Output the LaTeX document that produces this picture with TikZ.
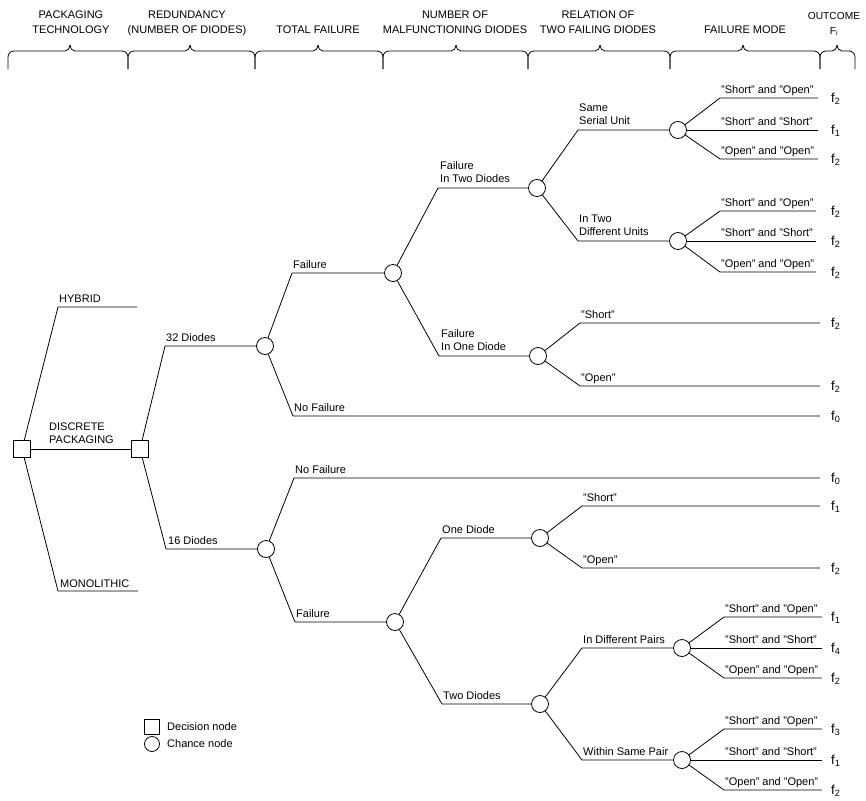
\documentclass[tikz,border=0pt]{standalone}
\usepackage{fontspec}
\setmainfont{Liberation Sans}
\begin{document}
\begin{tikzpicture}[x=1pt,y=-1pt,
  wire/.style={line width=0.8pt, line join=round},
  bracestyle/.style={line width=0.8pt, line join=round},
  chance/.style={circle, draw, line width=0.8pt, minimum size=17pt, inner sep=0pt},
  decision/.style={rectangle, draw, line width=0.8pt, minimum size=17pt, inner sep=0pt},
  lbl/.style={inner sep=0pt, font=\fontsize{11}{13.5}\selectfont, align=left},
  hdr/.style={inner sep=0pt, font=\fontsize{11}{15}\selectfont, align=center},
  flbl/.style={inner sep=0pt, font=\fontsize{13}{15}\selectfont, anchor=base west}
]
\useasboundingbox (0,0) rectangle (866,800);

% ---------- header ----------
\node[hdr, anchor=south] (hpk) at (71,34) {PACKAGING\\TECHNOLOGY};
\node[hdr, anchor=south] (hrd) at (187,36) {REDUNDANCY\\(NUMBER OF DIODES)};
\node[hdr, anchor=base] (htf) at (318,34) {TOTAL FAILURE};
\node[hdr, anchor=south] (hnm) at (455,34) {NUMBER OF\\MALFUNCTIONING DIODES};
\node[hdr, anchor=south] (hrl) at (598,34) {RELATION OF\\TWO FAILING DIODES};
\node[hdr, anchor=base] (hfm) at (745,34) {FAILURE MODE};
\node[hdr, anchor=south, font=\fontsize{10.2}{15}\selectfont] (hout) at (834,36) {OUTCOME\\F\textsubscript{i}};

\foreach \sa/\tk/\sb in {8/70/128, 128/190/255, 255/318/383, 383/456/528, 528/600/670, 670/743/820, 820/837/855}{
  \draw[bracestyle] (\sa,69) -- (\sa,57) to[out=90,in=180] (\sa+6,51) -- (\tk-5,51)
    to[out=0,in=-90] (\tk,45) to[out=-90,in=180] (\tk+5,51) -- (\sb-6,51)
    to[out=0,in=90] (\sb,57) -- (\sb,69);
}

% ---------- decision nodes ----------
\node[decision] (d1) at (22,449) {};
\node[decision] (d2) at (140,449) {};
\coordinate (khyb) at (58,307);  \coordinate (ehyb) at (137,307);
\coordinate (kmono) at (58,591); \coordinate (emono) at (138,591);
\draw[wire] (d1) -- (khyb) -- (ehyb);
\draw[wire] (d1) -- (d2);
\draw[wire] (d1) -- (kmono) -- (emono);
\node[lbl, anchor=base west] (lhyb) at (59,302) {HYBRID};
\node[lbl, anchor=south west] (ldisc) at (49,444) {DISCRETE\\PACKAGING};
\node[lbl, anchor=base west] (lmono) at (60,587) {MONOLITHIC};

% ---------- redundancy ----------
\node[chance] (c1) at (265,346) {};
\node[chance] (c2) at (266,549) {};
\coordinate (k32) at (165,346);
\coordinate (k16) at (166,549);
\draw[wire] (d2) -- (k32) -- (c1);
\draw[wire] (d2) -- (k16) -- (c2);
\node[lbl, anchor=base west] (l32) at (166,341.5) {32 Diodes};
\node[lbl, anchor=base west] (l16) at (168,544.5) {16 Diodes};

% ---------- 32 diodes branch ----------
\node[chance] (c3) at (393,273) {};
\coordinate (kf1) at (292,273);
\coordinate (knf1) at (293,416); \coordinate (enf1) at (820,416);
\draw[wire] (c1) -- (kf1) -- (c3);
\draw[wire] (c1) -- (knf1) -- (enf1);
\node[lbl, anchor=base west] (lf1) at (293,268.5) {Failure};
\node[lbl, anchor=base west] (lnf1) at (294,411.5) {No Failure};
\node[flbl] (fnf1) at (831,420) {f\textsubscript{0}};

\node[chance] (c4) at (537,188) {};
\node[chance] (c5) at (538,356) {};
\coordinate (k2d) at (438,188);
\coordinate (k1d) at (439,356);
\draw[wire] (c3) -- (k2d) -- (c4);
\draw[wire] (c3) -- (k1d) -- (c5);
\node[lbl, anchor=south west] (l2d) at (440,183) {Failure\\In Two Diodes};
\node[lbl, anchor=south west] (l1d) at (441,351) {Failure\\In One Diode};

\node[chance] (c6) at (678,130) {};
\node[chance] (c7) at (678,241) {};
\coordinate (kss) at (578,130);
\coordinate (kdu) at (578,241);
\draw[wire] (c4) -- (kss) -- (c6);
\draw[wire] (c4) -- (kdu) -- (c7);
\node[lbl, anchor=south west] (lss) at (579,125) {Same\\Serial Unit};
\node[lbl, anchor=south west] (ldu) at (579,236) {In Two\\Different Units};

% leaves of c6
\coordinate (k6a) at (720,98);  \coordinate (e6a) at (818,98);
\coordinate (e6b) at (818,130);
\coordinate (k6c) at (720,159); \coordinate (e6c) at (818,159);
\draw[wire] (c6) -- (k6a) -- (e6a);
\draw[wire] (c6) -- (e6b);
\draw[wire] (c6) -- (k6c) -- (e6c);
\node[lbl, anchor=base west] (l6a) at (721,93.5) {"Short" and "Open"};
\node[lbl, anchor=base west] (l6b) at (721,125.5) {"Short" and "Short"};
\node[lbl, anchor=base west] (l6c) at (721,154.5) {"Open" and "Open"};
\node[flbl] (f6a) at (831,102) {f\textsubscript{2}};
\node[flbl] (f6b) at (831,134) {f\textsubscript{1}};
\node[flbl] (f6c) at (831,163) {f\textsubscript{2}};

% leaves of c7
\coordinate (k7a) at (720,211); \coordinate (e7a) at (816,211);
\coordinate (e7b) at (816,241);
\coordinate (k7c) at (720,272); \coordinate (e7c) at (816,272);
\draw[wire] (c7) -- (k7a) -- (e7a);
\draw[wire] (c7) -- (e7b);
\draw[wire] (c7) -- (k7c) -- (e7c);
\node[lbl, anchor=base west] (l7a) at (721,206.5) {"Short" and "Open"};
\node[lbl, anchor=base west] (l7b) at (721,236.5) {"Short" and "Short"};
\node[lbl, anchor=base west] (l7c) at (721,267.5) {"Open" and "Open"};
\node[flbl] (f7a) at (831,215) {f\textsubscript{2}};
\node[flbl] (f7b) at (831,245) {f\textsubscript{2}};
\node[flbl] (f7c) at (831,276) {f\textsubscript{2}};

% leaves of c5
\coordinate (k5a) at (580,323); \coordinate (e5a) at (820,323);
\coordinate (k5b) at (580,386); \coordinate (e5b) at (820,386);
\draw[wire] (c5) -- (k5a) -- (e5a);
\draw[wire] (c5) -- (k5b) -- (e5b);
\node[lbl, anchor=base west] (l5a) at (581,318.5) {"Short"};
\node[lbl, anchor=base west] (l5b) at (581,381.5) {"Open"};
\node[flbl] (f5a) at (831,327) {f\textsubscript{2}};
\node[flbl] (f5b) at (831,390) {f\textsubscript{2}};

% ---------- 16 diodes branch ----------
\coordinate (knf2) at (294,478); \coordinate (enf2) at (820,478);
\coordinate (kf2) at (295,622);
\node[chance] (c8) at (395,622) {};
\draw[wire] (c2) -- (knf2) -- (enf2);
\draw[wire] (c2) -- (kf2) -- (c8);
\node[lbl, anchor=base west] (lnf2) at (295,473.5) {No Failure};
\node[lbl, anchor=base west] (lf2) at (296,617.5) {Failure};
\node[flbl] (fnf2) at (831,482) {f\textsubscript{0}};

\node[chance] (c9) at (540,538) {};
\node[chance] (c10) at (540,704) {};
\coordinate (kone) at (441,538);
\coordinate (ktwo) at (442,704);
\draw[wire] (c8) -- (kone) -- (c9);
\draw[wire] (c8) -- (ktwo) -- (c10);
\node[lbl, anchor=base west] (lone) at (442,533.5) {One Diode};
\node[lbl, anchor=base west] (ltwo) at (443,699.5) {Two Diodes};

% leaves of c9
\coordinate (k9a) at (582,506); \coordinate (e9a) at (820,506);
\coordinate (k9b) at (582,568); \coordinate (e9b) at (820,568);
\draw[wire] (c9) -- (k9a) -- (e9a);
\draw[wire] (c9) -- (k9b) -- (e9b);
\node[lbl, anchor=base west] (l9a) at (583,501.5) {"Short"};
\node[lbl, anchor=base west] (l9b) at (583,563.5) {"Open"};
\node[flbl] (f9a) at (831,510) {f\textsubscript{1}};
\node[flbl] (f9b) at (831,572) {f\textsubscript{2}};

\node[chance] (c11) at (682,648) {};
\node[chance] (c12) at (682,760) {};
\coordinate (kdp) at (582,648);
\coordinate (ksp) at (582,760);
\draw[wire] (c10) -- (kdp) -- (c11);
\draw[wire] (c10) -- (ksp) -- (c12);
\node[lbl, anchor=base west] (ldp) at (583,643.5) {In Different Pairs};
\node[lbl, anchor=base west] (lsp) at (583,755.5) {Within Same Pair};

% leaves of c11
\coordinate (k11a) at (724,617); \coordinate (e11a) at (822,617);
\coordinate (e11b) at (822,648);
\coordinate (k11c) at (724,678); \coordinate (e11c) at (822,678);
\draw[wire] (c11) -- (k11a) -- (e11a);
\draw[wire] (c11) -- (e11b);
\draw[wire] (c11) -- (k11c) -- (e11c);
\node[lbl, anchor=base west] (l11a) at (725,612.5) {"Short" and "Open"};
\node[lbl, anchor=base west] (l11b) at (725,643.5) {"Short" and "Short"};
\node[lbl, anchor=base west] (l11c) at (725,673.5) {"Open" and "Open"};
\node[flbl] (f11a) at (831,621) {f\textsubscript{1}};
\node[flbl] (f11b) at (831,652) {f\textsubscript{4}};
\node[flbl] (f11c) at (831,682) {f\textsubscript{2}};

% leaves of c12
\coordinate (k12a) at (724,729); \coordinate (e12a) at (822,729);
\coordinate (e12b) at (822,760);
\coordinate (k12c) at (724,790); \coordinate (e12c) at (822,790);
\draw[wire] (c12) -- (k12a) -- (e12a);
\draw[wire] (c12) -- (e12b);
\draw[wire] (c12) -- (k12c) -- (e12c);
\node[lbl, anchor=base west] (l12a) at (725,724.5) {"Short" and "Open"};
\node[lbl, anchor=base west] (l12b) at (725,755.5) {"Short" and "Short"};
\node[lbl, anchor=base west] (l12c) at (725,785.5) {"Open" and "Open"};
\node[flbl] (f12a) at (831,733) {f\textsubscript{3}};
\node[flbl] (f12b) at (831,764) {f\textsubscript{1}};
\node[flbl] (f12c) at (831,794) {f\textsubscript{2}};

% ---------- legend ----------
\node[decision, minimum size=15pt] (legd) at (152,727) {};
\node[chance, minimum size=15pt] (legc) at (152,744) {};
\node[lbl, anchor=west] (legdt) at (167,727) {Decision node};
\node[lbl, anchor=west] (legct) at (167,744) {Chance node};
\end{tikzpicture}
\end{document}
